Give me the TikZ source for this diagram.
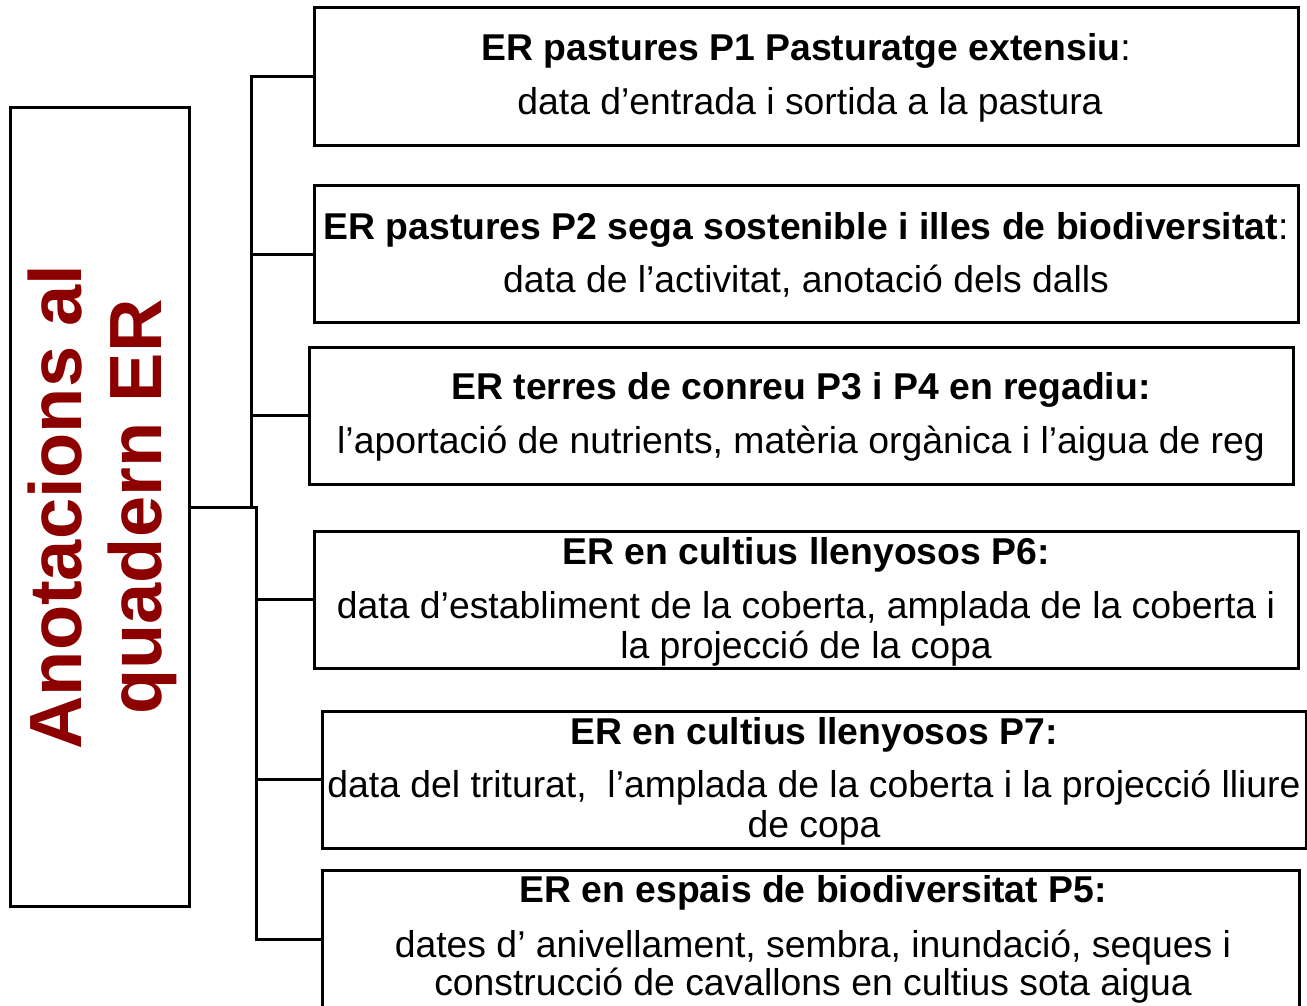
\documentclass[tikz,border=0pt]{standalone}
\usepackage{fontspec}
\setmainfont{Liberation Sans}
\definecolor{titlered}{RGB}{140,0,0}
\begin{document}
\begin{tikzpicture}[x=0.75pt,y=-0.75pt,
  box/.style={draw, line width=2.25pt, inner sep=0pt, minimum width=984*0.75pt, minimum height=137*0.75pt},
  lbox/.style={draw, line width=2.25pt, inner sep=0pt, minimum width=179*0.75pt, minimum height=798*0.75pt},
  ttl/.style={font=\fontsize{28}{30}\selectfont\bfseries, anchor=base, inner sep=0pt},
  bdy/.style={font=\fontsize{28}{30}\selectfont, anchor=base, inner sep=0pt},
  conn/.style={line width=2.25pt}]
\useasboundingbox (0,0) rectangle (1307,1006);

\node[lbox] (L) at (99.5,507) {};
\node[rotate=90, inner sep=0pt, align=center, text=titlered,
  font=\fontsize{55.5}{60}\selectfont\bfseries] (Lt) at (102,507) {Anotacions al\\quadern ER};

\node[box] (b1) at (806,76.5) {};
\node[box] (b2) at (806,254) {};
\node[box] (b3) at (801,415.5) {};
\node[box] (b4) at (806,599.5) {};
\node[box] (b5) at (814,779.5) {};
\node[box, minimum width=977*0.75pt, minimum height=138*0.75pt] (b6) at (810.5,939) {};

\node[ttl] (t1) at (806,61) {ER pastures P1 Pasturatge extensiu\textmd{:}};
\node[bdy] (d1) at (810,114) {data d’entrada i sortida a la pastura};

\node[ttl] (t2) at (806,239) {ER pastures P2 sega sostenible i illes de biodiversitat\textmd{:}};
\node[bdy] (d2) at (806,292) {data de l’activitat, anotació dels dalls};

\node[ttl] (t3) at (801,399) {ER terres de conreu P3 i P4 en regadiu:};
\node[bdy] (d3) at (801,453) {l’aportació de nutrients, matèria orgànica i l’aigua de reg};

\node[ttl] (t4) at (806,564) {ER en cultius llenyosos P6:};
\node[bdy] (d4a) at (806,618) {data d’establiment de la coberta, amplada de la coberta i};
\node[bdy] (d4b) at (806,658) {la projecció de la copa};

\node[ttl] (t5) at (814,744) {ER en cultius llenyosos P7:};
\node[bdy] (d5a) at (814,797) {data del triturat,\ \ l’amplada de la coberta i la projecció lliure};
\node[bdy] (d5b) at (814,837) {de copa};

\node[ttl] (t6) at (813,902) {ER en espais de biodiversitat P5:};
\node[bdy] (d6a) at (813,957) {dates d’ anivellament, sembra, inundació, seques i};
\node[bdy] (d6b) at (813,995) {construcció de cavallons en cultius sota aigua};

\draw[conn] (L.east) -- (251,507) |- (b1.west);
\draw[conn] (L.east) -- (251,507) |- (b2.west);
\draw[conn] (L.east) -- (251,507) |- (b3.west);
\draw[conn] (L.east) -- (256,507) |- (b4.west);
\draw[conn] (L.east) -- (256,507) |- (b5.west);
\draw[conn] (L.east) -- (256,507) |- (b6.west);
\end{tikzpicture}
\end{document}
